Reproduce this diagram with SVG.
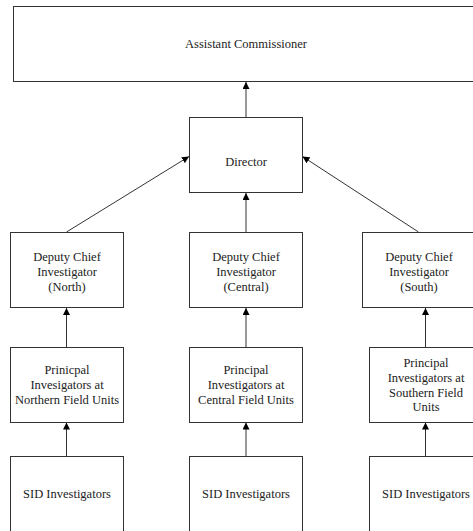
<svg xmlns="http://www.w3.org/2000/svg" width="473" height="531" viewBox="0 0 473 531" font-family="Liberation Serif, Times New Roman, serif">
<style>
.box{fill:#fff;stroke:#333;stroke-width:1}
.t{font-size:12.5px;fill:#222;text-anchor:middle}
.c{fill:none;stroke:#333;stroke-width:1;marker-end:url(#ah)}
</style>
<defs>
<marker id="ah" viewBox="0 0 10 10" refX="10" refY="5" markerWidth="7" markerHeight="7" markerUnits="userSpaceOnUse" orient="auto">
<path d="M0,0 L10,5 L0,10 z" fill="#000"/>
</marker>
</defs>
<rect width="473" height="531" fill="#fff"/>
<g id="connectors">
<line class="c" x1="246" y1="117" x2="246" y2="82"/>
<line class="c" x1="66.5" y1="232" x2="189" y2="156.5"/>
<line class="c" x1="246" y1="232" x2="246" y2="193"/>
<line class="c" x1="418.5" y1="232" x2="302.5" y2="156.5"/>
<line class="c" x1="66.5" y1="347" x2="66.5" y2="308"/>
<line class="c" x1="246" y1="347" x2="246" y2="308"/>
<line class="c" x1="425.5" y1="347" x2="425.5" y2="308"/>
<line class="c" x1="66.5" y1="456.5" x2="66.5" y2="422.5"/>
<line class="c" x1="246" y1="456.5" x2="246" y2="422.5"/>
<line class="c" x1="425.5" y1="456.5" x2="425.5" y2="422.5"/>
</g>
<g id="assistant-commissioner">
<rect class="box" x="13.5" y="6.5" width="470" height="75"/>
<text class="t" font-family="Liberation Serif" x="246" y="47.5">Assistant Commissioner</text>
</g>
<g id="director">
<rect class="box" x="189.5" y="117.5" width="113" height="75"/>
<text class="t" font-family="Liberation Serif" x="246" y="166">Director</text>
</g>
<g id="deputy-north">
<rect class="box" x="10.5" y="232.5" width="113" height="75"/>
<text class="t" font-family="Liberation Serif" x="67" y="261">Deputy Chief</text>
<text class="t" font-family="Liberation Serif" x="67" y="275.5">Investigator</text>
<text class="t" font-family="Liberation Serif" x="67" y="290.5">(North)</text>
</g>
<g id="deputy-central">
<rect class="box" x="189.5" y="232.5" width="113" height="75"/>
<text class="t" font-family="Liberation Serif" x="246" y="261">Deputy Chief</text>
<text class="t" font-family="Liberation Serif" x="246" y="275.5">Investigator</text>
<text class="t" font-family="Liberation Serif" x="246" y="290.5">(Central)</text>
</g>
<g id="deputy-south">
<rect class="box" x="362.5" y="232.5" width="113" height="75"/>
<text class="t" font-family="Liberation Serif" x="419" y="261">Deputy Chief</text>
<text class="t" font-family="Liberation Serif" x="419" y="275.5">Investigator</text>
<text class="t" font-family="Liberation Serif" x="419" y="290.5">(South)</text>
</g>
<g id="principal-north">
<rect class="box" x="10.5" y="347.5" width="113" height="75"/>
<text class="t" font-family="Liberation Serif" x="67" y="374">Prinicpal</text>
<text class="t" font-family="Liberation Serif" x="67" y="389">Invesigators at</text>
<text class="t" font-family="Liberation Serif" x="67" y="404">Northern Field Units</text>
</g>
<g id="principal-central">
<rect class="box" x="189.5" y="347.5" width="113" height="75"/>
<text class="t" font-family="Liberation Serif" x="246" y="374">Principal</text>
<text class="t" font-family="Liberation Serif" x="246" y="389">Investigators at</text>
<text class="t" font-family="Liberation Serif" x="246" y="404">Central Field Units</text>
</g>
<g id="principal-south">
<rect class="box" x="369.5" y="347.5" width="113" height="75"/>
<text class="t" font-family="Liberation Serif" x="426" y="367">Principal</text>
<text class="t" font-family="Liberation Serif" x="426" y="382">Investigators at</text>
<text class="t" font-family="Liberation Serif" x="426" y="397">Southern Field</text>
<text class="t" font-family="Liberation Serif" x="426" y="411">Units</text>
</g>
<g id="sid-north">
<rect class="box" x="10.5" y="456.5" width="113" height="80"/>
<text class="t" font-family="Liberation Serif" x="67" y="498">SID Investigators</text>
</g>
<g id="sid-central">
<rect class="box" x="189.5" y="456.5" width="113" height="80"/>
<text class="t" font-family="Liberation Serif" x="246" y="498">SID Investigators</text>
</g>
<g id="sid-south">
<rect class="box" x="369.5" y="456.5" width="113" height="80"/>
<text class="t" font-family="Liberation Serif" x="426" y="498">SID Investigators</text>
</g>
</svg>
